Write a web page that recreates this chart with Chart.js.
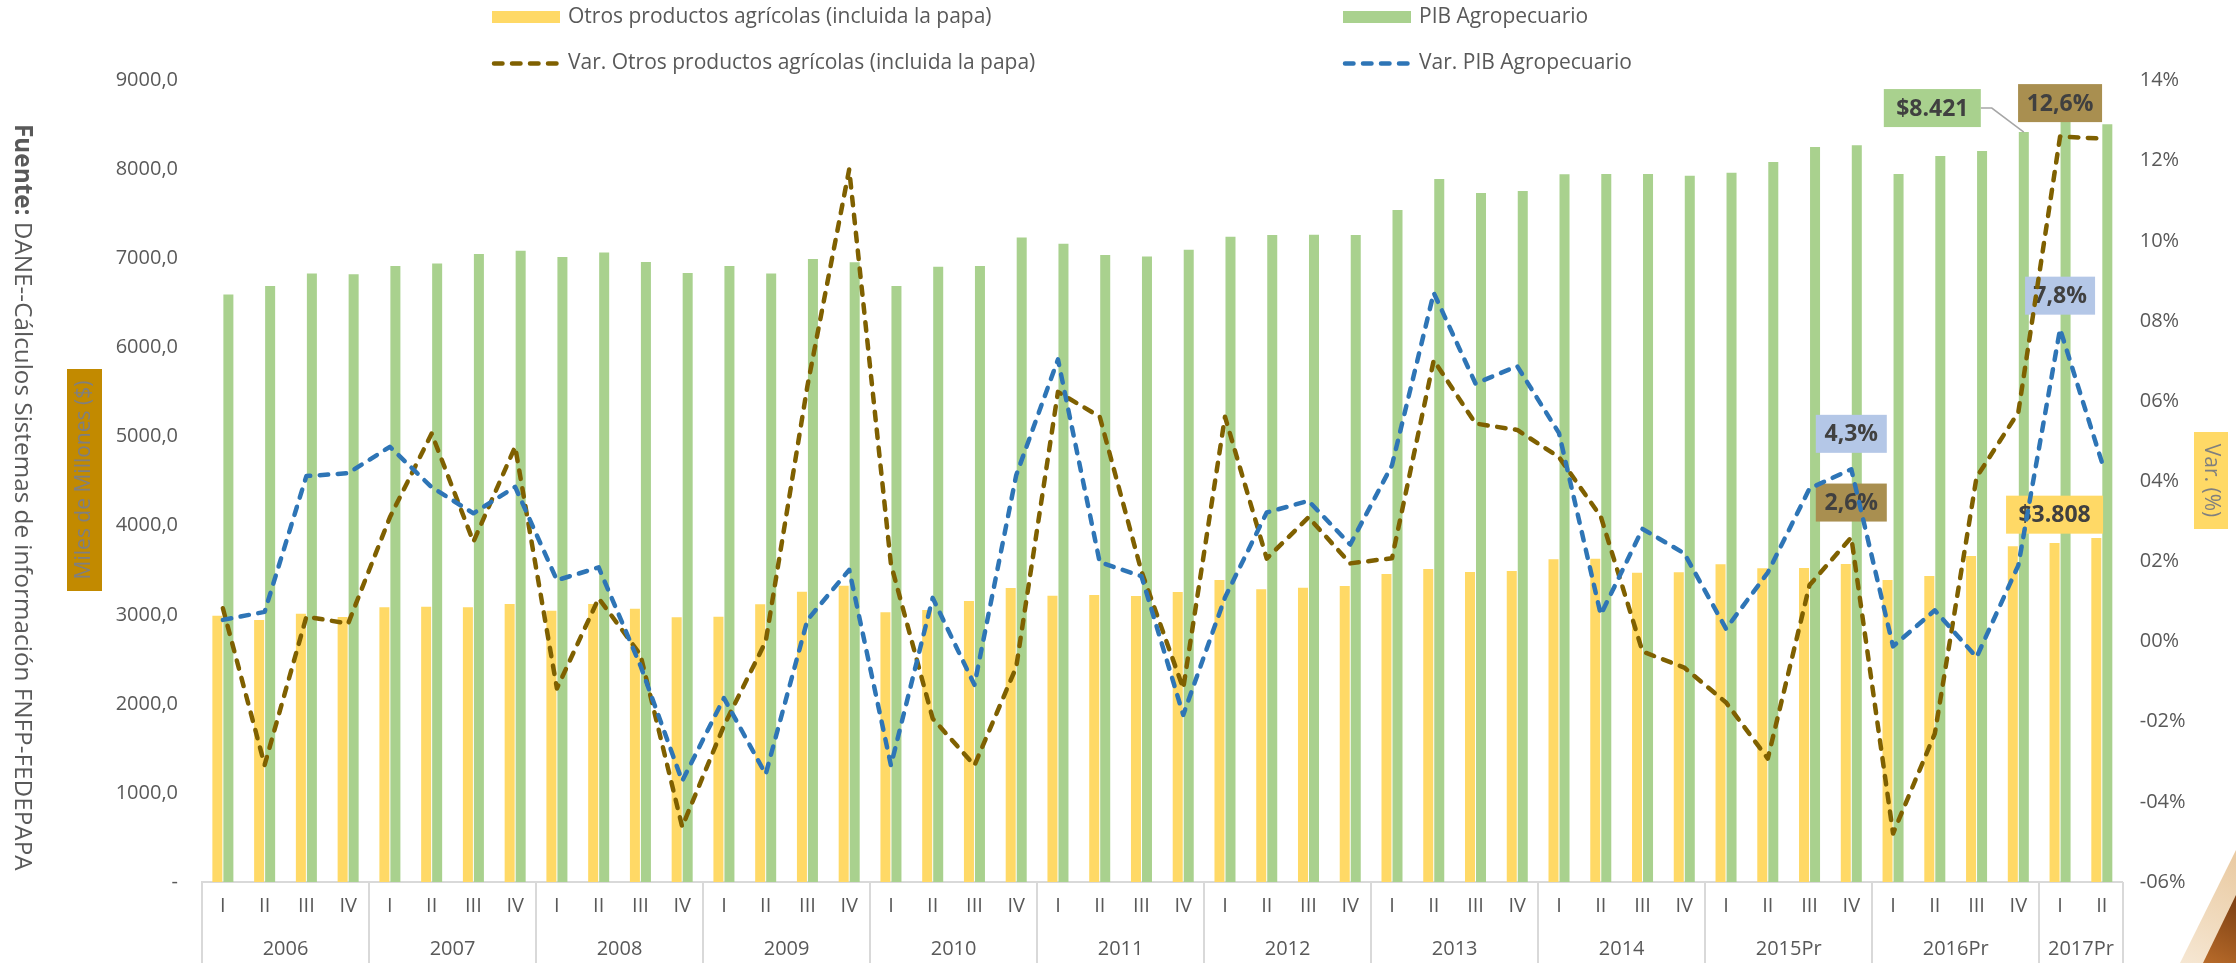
<!DOCTYPE html>
<html>
<head>
<meta charset="utf-8">
<script src="https://cdn.jsdelivr.net/npm/chart.js@4.4.0/dist/chart.umd.min.js"></script>
<style>
html,body{margin:0;padding:0;background:#ffffff;}
canvas{display:block;}
</style>
</head>
<body>
<canvas id="c" width="2236" height="963"></canvas>
<script>
// ---------------- DATA ----------------
const yearLabels = ['2006','2007','2008','2009','2010','2011','2012','2013','2014','2015Pr','2016Pr','2017Pr'];
const quartersPerYear = [4,4,4,4,4,4,4,4,4,4,4,2];
const quarterNames = ['I','II','III','IV'];

// Miles de millones ($)
const otrosProductos = [2990,2942,3013,2976, 3084,3091,3084,3121, 3046,3121,3069,2972, 2979,3118,3260,3327,
  3028,3054,3155,3301, 3215,3223,3211,3256, 3391,3286,3305,3324, 3458,3514,3481,3492,
  3623,3630,3473,3477, 3567,3522,3526,3571, 3391,3436,3660,3769, 3808,3863];
const pibAgropecuario = [6597,6692,6834,6823, 6916,6946,7051,7088, 7018,7070,6961,6838, 6916,6834,6995,6958,
  6692,6908,6916,7238, 7167,7040,7025,7100, 7246,7264,7268,7264, 7545,7893,7736,7758,
  7946,7950,7950,7930, 7964,8084,8253,8272, 7950,8152,8208,8421, 8567,8508];
// Var. (%)
const varOtros = [0.83,-3.08,0.62,0.45, 3.1,5.19,2.49,4.86, -1.17,1.08,-0.33,-4.62, -2.1,0.0,6.38,11.78,
  1.93,-1.92,-3.09,-0.64, 6.23,5.61,1.75,-1.17, 5.61,2.07,3.1,1.95, 2.08,7.02,5.44,5.28,
  4.6,3.12,-0.25,-0.65, -1.52,-2.92,1.41,2.6, -4.79,-2.3,4.1,5.72, 12.6,12.55];
const varPib = [0.54,0.74,4.13,4.2, 4.86,3.85,3.2,3.86, 1.53,1.85,-0.6,-3.48, -1.41,-3.31,0.54,1.79,
  -3.09,1.09,-1.08,4.15, 7.04,1.98,1.63,-1.83, 1.1,3.22,3.51,2.42, 4.4,8.7,6.44,6.87,
  5.2,0.67,2.81,2.2, 0.32,1.72,3.82,4.3, -0.12,0.78,-0.39,1.9, 7.8,4.48];

const leftTicks = {min:0, max:9000, step:1000};
const rightTicks = {min:-6, max:14, step:2};

const seriesNames = ['Otros productos agrícolas (incluida la papa)','PIB Agropecuario',
  'Var. Otros productos agrícolas (incluida la papa)','Var. PIB Agropecuario'];

// categories built from the year/quarter lists
const categories = [];
quartersPerYear.forEach(n => { for (let q = 0; q < n; q++) categories.push(quarterNames[q]); });

// ---------------- STYLE ----------------
const FONT = "'Open Sans', 'DejaVu Sans', sans-serif";
const TXT = '#595959';
const C_YEL = '#FFD966', C_GRN = '#A9D18E', C_BRN = '#7F6000', C_BLU = '#2E75B6';
const DASH = [8.5, 9.5];
const LW = 4.5;

function fmtLeft(v){ return v === 0 ? '-' : v.toFixed(1).replace('.', ','); }
function fmtRight(v){ const a = Math.abs(Math.round(v)); return (v < 0 ? '-' : '') + (a < 10 ? '0' + a : '' + a) + '%'; }
function fmtPct(v){ return v.toFixed(1).replace('.', ',') + '%'; }
function fmtMoney(v){ const r = Math.round(v); const th = Math.floor(r/1000); const rest = String(r % 1000).padStart(3,'0'); return '$' + th + '.' + rest; }

// ---------------- PLUGINS ----------------
const decorPlugin = {
  id: 'decor',
  beforeDatasetDraw(chart, args) {
    // value label boxes: drawn after the bars, before the lines
    if (args.index !== 2) return;
    const ctx = chart.ctx;
    const mYel = chart.getDatasetMeta(0), mGrn = chart.getDatasetMeta(1);
    const mBrn = chart.getDatasetMeta(2), mBlu = chart.getDatasetMeta(3);
    const boxes = [
      {el: mBrn.data[44], text: fmtPct(varOtros[44]), bg: '#A98F50', w: 84, dx: 0, dy: -33.5},
      {el: mBlu.data[44], text: fmtPct(varPib[44]), bg: '#B4C7E7', w: 70, dx: 0, dy: -33.3},
      {el: mBlu.data[39], text: fmtPct(varPib[39]), bg: '#B4C7E7', w: 71, dx: 0, dy: -35.4},
      {el: mBrn.data[39], text: fmtPct(varOtros[39]), bg: '#A98F50', w: 71, dx: 0, dy: -34.8},
      {el: mYel.data[44], text: fmtMoney(otrosProductos[44]), bg: C_YEL, w: 97, dx: 0, dy: -28.2},
      {el: mGrn.data[43], text: fmtMoney(pibAgropecuario[43]), bg: C_GRN, w: 97, dx: -91.5, dy: -24, leader: true}
    ];
    ctx.save();
    boxes.forEach(b => {
      const cx = b.el.x + b.dx, cy = b.el.y + b.dy, h = 38;
      if (b.leader) {
        ctx.strokeStyle = '#A6A6A6'; ctx.lineWidth = 1.5; ctx.setLineDash([]);
        ctx.beginPath();
        ctx.moveTo(cx + b.w/2, cy);
        ctx.lineTo(cx + b.w/2 + 11, cy);
        ctx.lineTo(b.el.x, b.el.y);
        ctx.stroke();
      }
      ctx.fillStyle = b.bg;
      ctx.fillRect(cx - b.w/2, cy - h/2, b.w, h);
      ctx.fillStyle = '#404040';
      ctx.font = 'bold 23px ' + FONT;
      ctx.textAlign = 'center'; ctx.textBaseline = 'middle';
      ctx.fillText(b.text, cx, cy + 1);
    });
    ctx.restore();
  },
  afterDraw(chart) {
    const ctx = chart.ctx;
    const xs = chart.scales.x;
    const area = chart.chartArea;
    const H = chart.height;
    const step = (xs.right - xs.left) / categories.length;
    ctx.save();
    // year separators and labels
    ctx.strokeStyle = '#D9D9D9'; ctx.lineWidth = 2;
    let k = 0;
    const bounds = [0];
    quartersPerYear.forEach(n => { k += n; bounds.push(k); });
    bounds.forEach(b => {
      const x = Math.round(xs.getPixelForValue(Math.min(b, categories.length - 1)) + (b === categories.length ? step/2 : -step/2));
      ctx.beginPath(); ctx.moveTo(x, area.bottom); ctx.lineTo(x, H); ctx.stroke();
    });
    ctx.fillStyle = TXT; ctx.font = '20px ' + FONT; ctx.textAlign = 'center'; ctx.textBaseline = 'middle';
    for (let y = 0; y < yearLabels.length; y++) {
      const a = xs.getPixelForValue(bounds[y]) - step/2;
      const b = xs.getPixelForValue(bounds[y+1] - 1) + step/2;
      ctx.fillText(yearLabels[y], (a + b)/2, 949);
    }
    // legend (2 x 2 grid)
    const cols = [492, 1343], rows = [17, 63.5];
    const sw = 68;
    ctx.textAlign = 'left'; ctx.textBaseline = 'middle'; ctx.font = '21px ' + FONT;
    const items = [
      {c:0, r:0, type:'bar', color:C_YEL, text:seriesNames[0]},
      {c:1, r:0, type:'bar', color:C_GRN, text:seriesNames[1]},
      {c:0, r:1, type:'line', color:C_BRN, text:seriesNames[2]},
      {c:1, r:1, type:'line', color:C_BLU, text:seriesNames[3]}
    ];
    items.forEach(it => {
      const x = cols[it.c], y = rows[it.r];
      if (it.type === 'bar') { ctx.fillStyle = it.color; ctx.fillRect(x, y - 6, sw, 12); }
      else {
        ctx.strokeStyle = it.color; ctx.lineWidth = LW; ctx.lineCap = 'round'; ctx.setLineDash(DASH);
        ctx.beginPath(); ctx.moveTo(x + 2, y); ctx.lineTo(x + sw - 2, y); ctx.stroke(); ctx.setLineDash([]);
      }
      ctx.fillStyle = TXT; ctx.fillText(it.text, x + sw + 8, y);
    });
    // left axis title
    ctx.fillStyle = '#C28A00'; ctx.fillRect(67, 369, 35, 222);
    ctx.save(); ctx.translate(84.5, 480); ctx.rotate(-Math.PI/2);
    ctx.fillStyle = '#7F7F7F'; ctx.font = '21px ' + FONT; ctx.textAlign = 'center'; ctx.textBaseline = 'middle';
    ctx.fillText('Miles de Millones ($)', 0, 0); ctx.restore();
    // right axis title
    ctx.fillStyle = C_YEL; ctx.fillRect(2194, 432, 34, 97);
    ctx.save(); ctx.translate(2211, 480.5); ctx.rotate(Math.PI/2);
    ctx.fillStyle = '#7F7F7F'; ctx.font = '21px ' + FONT; ctx.textAlign = 'center'; ctx.textBaseline = 'middle';
    ctx.fillText('Var. (%)', 0, 0); ctx.restore();
    // source text (vertical), sized to span the same length as the original
    const t1 = 'Fuente:', t2 = 'DANE--Cálculos Sistemas de información FNFP-FEDEPAPA';
    let fs = 23;
    ctx.font = 'bold ' + fs + 'px ' + FONT;
    let wA = ctx.measureText(t1 + ' ').width;
    ctx.font = fs + 'px ' + FONT;
    let wB = ctx.measureText(t2).width;
    fs = fs * 746 / (wA + wB);
    ctx.save(); ctx.translate(15, 124); ctx.rotate(Math.PI/2);
    ctx.fillStyle = TXT; ctx.textAlign = 'left'; ctx.textBaseline = 'alphabetic';
    ctx.font = 'bold ' + fs.toFixed(1) + 'px ' + FONT;
    ctx.fillText(t1, 0, 0);
    const w1 = ctx.measureText(t1 + ' ').width;
    ctx.font = fs.toFixed(1) + 'px ' + FONT;
    ctx.fillText(t2, w1, 0);
    ctx.restore();
    // corner decoration
    const g = ctx.createLinearGradient(2180, 963, 2236, 850);
    g.addColorStop(0, '#F6E7D3'); g.addColorStop(1, '#E9C9A0');
    ctx.fillStyle = g;
    ctx.beginPath(); ctx.moveTo(2236, 850); ctx.lineTo(2236, 963); ctx.lineTo(2180, 963); ctx.closePath(); ctx.fill();
    const g2 = ctx.createLinearGradient(2203, 963, 2236, 895);
    g2.addColorStop(0, '#B86B2A'); g2.addColorStop(1, '#7A3E12');
    ctx.fillStyle = g2;
    ctx.beginPath(); ctx.moveTo(2236, 895); ctx.lineTo(2236, 963); ctx.lineTo(2203, 963); ctx.closePath(); ctx.fill();
    ctx.restore();
  }
};

// ---------------- CHART ----------------
new Chart(document.getElementById('c'), {
  data: {
    labels: categories,
    datasets: [
      {type:'bar', label: seriesNames[0], data: otrosProductos, backgroundColor: C_YEL, yAxisID:'y', order: 2,
        categoryPercentage: 0.527, barPercentage: 0.91},
      {type:'bar', label: seriesNames[1], data: pibAgropecuario, backgroundColor: C_GRN, yAxisID:'y', order: 2,
        categoryPercentage: 0.527, barPercentage: 0.91},
      {type:'line', label: seriesNames[2], data: varOtros, borderColor: C_BRN, borderWidth: LW, borderDash: DASH,
        borderCapStyle:'round', borderJoinStyle:'round', pointRadius: 0, tension: 0, yAxisID:'y1', order: 1, fill:false},
      {type:'line', label: seriesNames[3], data: varPib, borderColor: C_BLU, borderWidth: LW, borderDash: DASH,
        borderCapStyle:'round', borderJoinStyle:'round', pointRadius: 0, tension: 0, yAxisID:'y1', order: 0, fill:false}
    ]
  },
  options: {
    responsive: false,
    animation: false,
    events: [],
    layout: {padding: {top: 80.5, bottom: 0, left: 0, right: 0}},
    plugins: {legend: {display: false}, tooltip: {enabled: false}},
    scales: {
      x: {
        type: 'category', offset: true,
        grid: {display: false, drawTicks: false},
        border: {display: true, color: '#D9D9D9', width: 2},
        ticks: {color: TXT, font: {family: FONT, size: 20}, padding: 12, maxRotation: 0, autoSkip: false},
        afterFit(s) { s.height = 81; }
      },
      y: {
        position: 'left', min: leftTicks.min, max: leftTicks.max,
        grid: {display: false, drawTicks: false}, border: {display: false},
        ticks: {stepSize: leftTicks.step, color: TXT, font: {family: FONT, size: 20}, padding: 24,
          callback: v => fmtLeft(v)},
        afterFit(s) { s.width = 202; }
      },
      y1: {
        position: 'right', min: rightTicks.min, max: rightTicks.max,
        grid: {display: false, drawTicks: false}, border: {display: false},
        ticks: {stepSize: rightTicks.step, color: TXT, font: {family: FONT, size: 20}, padding: 17,
          callback: v => fmtRight(v)},
        afterFit(s) { s.width = 113.3; }
      }
    }
  },
  plugins: [decorPlugin]
});
</script>
</body>
</html>
